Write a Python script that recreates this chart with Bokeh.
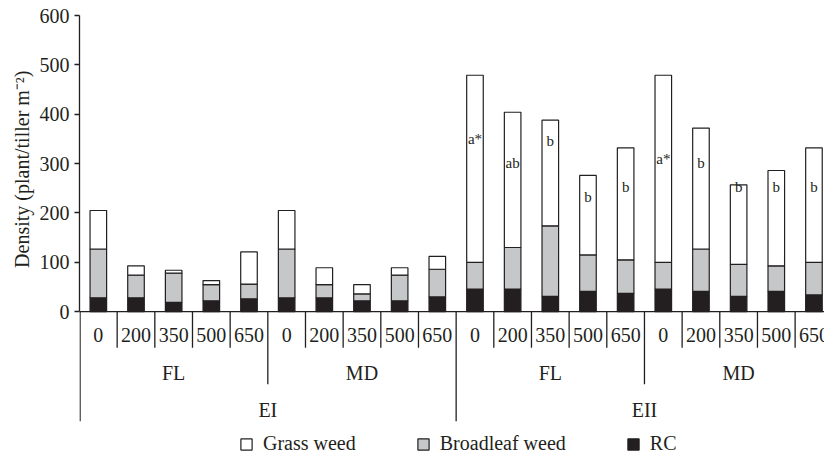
from bokeh.plotting import figure
from bokeh.models import (ColumnDataSource, FixedTicker, Span, Legend, LegendItem, Title)
from bokeh.core.properties import value
from bokeh.embed import file_html
from bokeh.resources import INLINE

# Treatment hierarchy: season > method > dose
seasons = ["EI", "EII"]
methods = ["FL", "MD"]
doses = ["0", "200", "350", "500", "650"]

# Weed density components (plant/tiller m-2), one value per bar, left to right
rc = [28, 28, 19, 22, 26, 28, 28, 22, 22, 30,
      46, 46, 31, 41, 37, 46, 41, 31, 41, 34]
broadleaf = [99, 46, 59, 33, 30, 99, 27, 14, 52, 56,
             54, 84, 143, 74, 68, 54, 86, 65, 52, 66]
grass = [78, 19, 6, 8, 65, 78, 34, 19, 15, 26,
         379, 274, 214, 161, 227, 379, 245, 161, 193, 232]

# Mean-separation letters shown inside the grass segments
letters = ["", "", "", "", "", "", "", "", "", "",
           "a*", "ab", "b", "b", "b", "a*", "b", "b", "b", "b"]
letter_y = [0, 0, 0, 0, 0, 0, 0, 0, 0, 0,
            350, 302, 346, 233, 252, 309, 302, 252, 252, 252]

yticks = [0, 100, 200, 300, 400, 500, 600]

INK = "#231f20"
GRAY = "#c6c7c9"
FONT = "Liberation Serif"

n = len(seasons) * len(methods) * len(doses)
xs = [i + 0.5 for i in range(n)]
dose_lab = [d for _ in seasons for _ in methods for d in doses]

src = ColumnDataSource(dict(x=xs, rc=rc, broadleaf=broadleaf, grass=grass))

p = figure(width=824, height=455, output_backend="svg", toolbar_location=None,
           x_range=(0, 19.78), y_range=(-291.3, 600),
           x_axis_location=None, min_border_left=79, min_border_right=0,
           min_border_top=15, min_border_bottom=0)
p.outline_line_color = None
p.grid.visible = False
p.background_fill_color = "white"

# Stacked bars: RC at the bottom, broadleaf in the middle, grass on top
rs = p.vbar_stack(["rc", "broadleaf", "grass"], x="x", width=0.44, source=src,
                  fill_color=[INK, GRAY, "white"], line_color=INK, line_width=1.2)

# Letters inside the bars
lab_idx = [i for i, t in enumerate(letters) if t]
p.text(x=[xs[i] for i in lab_idx], y=[letter_y[i] for i in lab_idx],
       text=[letters[i] for i in lab_idx], text_align="center",
       text_baseline="middle", text_font=value(FONT), text_font_size="15px",
       text_color=INK)

# Y axis (value part only; the line continues down through the category tiers)
ax = p.yaxis[0]
ax.ticker = FixedTicker(ticks=yticks)
ax.bounds = (0, 600)
ax.major_label_text_font = FONT
ax.major_label_text_font_size = "20px"
ax.major_label_text_color = INK
ax.major_label_standoff = 5
ax.major_tick_in = 0
ax.major_tick_out = 5
ax.minor_tick_line_color = None
ax.axis_line_color = INK
ax.axis_line_width = 1.3
ax.major_tick_line_color = INK
ax.major_tick_line_width = 1.3

# Y axis title, hung from the top of the value axis
ytitle = Title(text="Density (plant/tiller m\u207b\u00b2)", align="right",
               offset=55, standoff=8, text_font=FONT, text_font_size="20px",
               text_font_style="normal", text_color=INK)
p.add_layout(ytitle, "left")

# Baseline at zero
p.add_layout(Span(location=0, dimension="width", line_color=INK, line_width=1.3))

# Hierarchical category axis: separators get longer at each tier
DOSE_Y, METHOD_Y, SEASON_Y = -47, -124.5, -199.4
TIER_DEPTH = {1: -73, 2: -147, 3: -222}
nd, nm = len(doses), len(methods)
bx, by = [], []
for b in range(0, n):
    tier = 3 if b % (nd * nm) == 0 else (2 if b % nd == 0 else 1)
    bx.append(b + (0.015 if b == 0 else 0))
    by.append(TIER_DEPTH[tier])
p.segment(x0=bx, y0=[0] * len(bx), x1=bx, y1=by, line_color=INK, line_width=1.3)

p.text(x=xs, y=[DOSE_Y] * n, text=dose_lab, text_align="center",
       text_baseline="middle", text_font=value(FONT), text_font_size="20px",
       text_color=INK)

mx = [(k * nd) + nd / 2 for k in range(len(seasons) * nm)]
mlab = [m for _ in seasons for m in methods]
p.text(x=mx, y=[METHOD_Y] * len(mx), text=mlab, text_align="center",
       text_baseline="middle", text_font=value(FONT), text_font_size="20px",
       text_color=INK)

sx = [(k * nd * nm) + nd * nm / 2 for k in range(len(seasons))]
p.text(x=sx, y=[SEASON_Y] * len(sx), text=seasons, text_align="center",
       text_baseline="middle", text_font=value(FONT), text_font_size="20px",
       text_color=INK)

# Legend along the bottom
legend = Legend(items=[LegendItem(label="Grass weed", renderers=[rs[2]]),
                       LegendItem(label="Broadleaf weed", renderers=[rs[1]]),
                       LegendItem(label="RC", renderers=[rs[0]])],
                orientation="horizontal", location=(160, 0),
                glyph_width=14, glyph_height=14, label_standoff=10, spacing=60,
                padding=0, margin=0, border_line_color=None,
                background_fill_alpha=0, label_text_font=FONT,
                label_text_font_size="20px", label_text_color=INK,
                label_height=20)
p.add_layout(legend)

open("out.html", "w").write(file_html(p, INLINE))
